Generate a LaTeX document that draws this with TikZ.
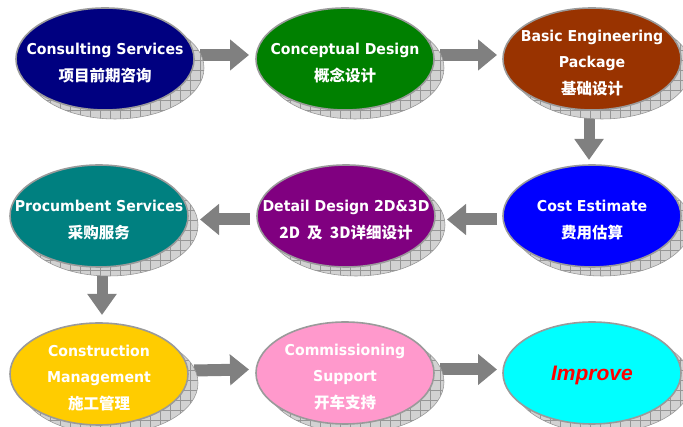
\documentclass[tikz,border=0pt]{standalone}
\usepackage{fontspec}
\usetikzlibrary{shapes.geometric,arrows.meta}
\newfontfamily\lat{DejaVu Sans}[FakeStretch=0.94]
\newfontfamily\cjk{Noto Sans CJK SC Bold}
\newfontfamily\arialf{Liberation Sans}
\definecolor{arrowgray}{HTML}{808080}
\definecolor{ellborder}{HTML}{9A9A9A}
\definecolor{shfillc}{HTML}{D2D2D2}
\definecolor{shgridc}{HTML}{969696}
\definecolor{c1}{HTML}{000080}
\definecolor{c2}{HTML}{008000}
\definecolor{c3}{HTML}{993300}
\definecolor{c4}{HTML}{0000FF}
\definecolor{c5}{HTML}{800080}
\definecolor{c6}{HTML}{008080}
\definecolor{c7}{HTML}{FFCC00}
\definecolor{c8}{HTML}{FF99CC}
\definecolor{c9}{HTML}{00FFFF}
\definecolor{impred}{HTML}{FF0000}
\pgfdeclarelayer{bg}
\pgfsetlayers{bg,main}
\tikzset{
  bubble/.style={ellipse, draw=ellborder, line width=1.6pt,
    minimum width=178pt, minimum height=102pt, inner sep=0pt, outer sep=0pt},
  bubtext/.style={text=white, align=center, inner sep=0pt, yshift=-4pt,
    font=\lat\bfseries\fontsize{15}{26.5}\selectfont},
  shfill/.style={fill=shfillc},
  shgrid/.style={draw=shgridc, line width=0.55pt},
  harrow/.style={arrowgray, line width=12pt, -{Triangle[length=19pt,width=30pt]}},
  varrow/.style={arrowgray, line width=11pt, -{Triangle[length=21pt,width=28pt]}}
}
\newcommand\zh[1]{{\cjk\fontsize{15.5}{26.5}\selectfont #1}}
\newcommand\bubble[6][]{%
  \begin{scope}
    \clip (#3+10,#4+9) ellipse [x radius=89, y radius=51];
    \fill[shfill] (#3-80,#4+62) rectangle (#3+100,#4-44);
    \draw[shgrid, step=10pt] (#3-80,#4+62) grid (#3+100,#4-44);
  \end{scope}
  \draw[shgrid] (#3+10,#4+9) ellipse [x radius=89, y radius=51];
  \node[bubble, fill=#5] (#2) at (#3,#4) {};
  \node[bubtext,#1] (#2-t) at (#2.center) {#6};
}
\begin{document}
\begin{tikzpicture}[x=1pt,y=-1pt]
  \clip (0,0) rectangle (683,427);

  \bubble{cs}{105}{59}{c1}{Consulting Services\\\zh{项目前期咨询}}
  \bubble{cd}{345}{59}{c2}{Conceptual Design\\\zh{概念设计}}
  \bubble{be}{592}{59}{c3}{Basic Engineering\\Package\\\zh{基础设计}}
  \bubble{ce}{592}{216}{c4}{Cost Estimate\\\zh{费用估算}}
  \bubble{dd}{346}{216}{c5}{Detail Design 2D\&3D\\\zh{2D\ \ 及\ \ 3D详细设计}}
  \bubble{ps}{99}{216}{c6}{Procumbent Services\\\zh{采购服务}}
  \bubble{cm}{99}{374}{c7}{Construction\\Management\\\zh{施工管理}}
  \bubble{cs2}{345}{373}{c8}{Commissioning\\Support\\\zh{开车支持}}
  \bubble[yshift=2pt,font=\arialf\bfseries\itshape\fontsize{21}{25}\selectfont,text=impred]{im}{592}{373}{c9}{Improve}

  \begin{pgfonlayer}{bg}
    \fill[white] (0,0) rectangle (683,427);
    \draw[harrow] ([xshift=6pt,yshift=4pt]cs.east) -- ([xshift=-7pt,yshift=4pt]cd.west);
    \draw[harrow] ([xshift=6pt,yshift=4pt]cd.east) -- ([xshift=-6pt,yshift=4pt]be.west);
    \draw[varrow] ([xshift=-3pt]be.south) -- ([xshift=-3pt,yshift=5pt]ce.north);
    \draw[harrow] ([xshift=-6pt,yshift=-3.5pt]ce.west) -- ([xshift=12pt,yshift=-3.5pt]dd.east);
    \draw[harrow] ([xshift=-7pt,yshift=-3.5pt]dd.west) -- ([xshift=12pt,yshift=-3.5pt]ps.east);
    \draw[varrow] ([xshift=3pt]ps.south) -- ([xshift=3pt,yshift=8pt]cm.north);
    \draw[harrow] ([xshift=6pt,yshift=3.5pt]cm.east) -- ([xshift=-7pt,yshift=3.5pt]cs2.west);
    \draw[harrow] ([xshift=6pt,yshift=3.5pt]cs2.east) -- ([xshift=-6pt,yshift=3.5pt]im.west);
  \end{pgfonlayer}
\end{tikzpicture}
\end{document}
